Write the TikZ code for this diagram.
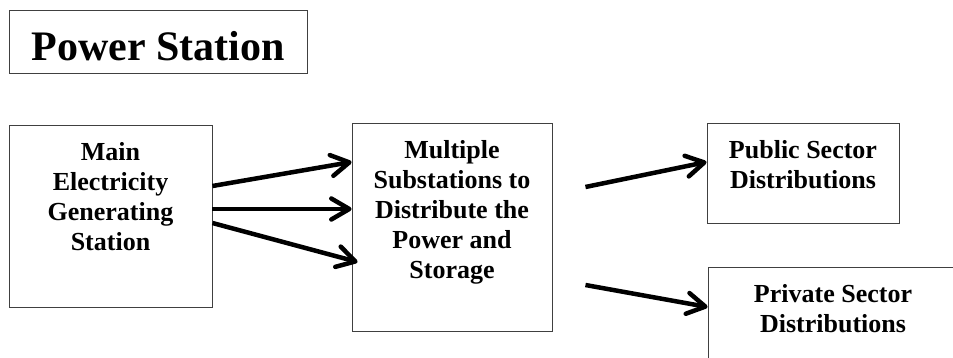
\documentclass[tikz,border=0pt]{standalone}
\usepackage{fontspec}
\setmainfont{Liberation Serif}
\usetikzlibrary{arrows.meta}

\begin{document}
\begin{tikzpicture}[
		x=1pt, y=-1pt,
		box/.style={draw=black!75, line width=0.9pt, inner sep=0pt},
		boxtext/.style={anchor=north, align=center, inner sep=0pt, font=\fontsize{26}{30}\selectfont\bfseries},
		flow/.style={line width=4.5pt, -{Straight Barb[length=18pt, width=21pt, round]}}
	]
	\useasboundingbox (0,0) rectangle (953,358);
	\clip (0,0) rectangle (953,358);

	% Title
	\node[box, minimum width=298pt, minimum height=63pt, text height=38pt, font=\fontsize{42}{50}\selectfont\bfseries] (title) at (158,41.5) {Power Station};

	% Boxes
	\node[box, minimum width=203pt, minimum height=182pt] (main) at (110.5,216) {};
	\node[box, minimum width=200pt, minimum height=208pt] (multi) at (452,227) {};
	\node[box, minimum width=192pt, minimum height=100pt] (public) at (803,173) {};
	\node[box, minimum width=250pt, minimum height=110pt] (private) at (833,322) {};

	% Labels
	\node[boxtext] (maintext) at ([yshift=-15pt]main.north) {\strut Main\\Electricity\\Generating\\Station};
	\node[boxtext] (multitext) at ([yshift=-15pt]multi.north) {\strut Multiple\\Substations to\\Distribute the\\Power and\\Storage};
	\node[boxtext] (publictext) at ([yshift=-15pt]public.north) {\strut Public Sector\\Distributions};
	\node[boxtext] (privatetext) at ([yshift=-15pt]private.north) {\strut Private Sector\\Distributions};

	% Arrows
	\draw[flow] ([yshift=30pt]main.east) -- ([yshift=65pt]multi.west);
	\draw[flow] ([yshift=7pt]main.east) -- ([yshift=18pt]multi.west);
	\draw[flow] ([yshift=-7pt]main.east) -- ([xshift=6pt,yshift=-35pt]multi.west);
	\draw[flow] ([xshift=33pt,yshift=40pt]multi.east) -- ([yshift=11pt]public.west);
	\draw[flow] ([xshift=33pt,yshift=-58pt]multi.east) -- ([yshift=15pt]private.west);
\end{tikzpicture}
\end{document}
